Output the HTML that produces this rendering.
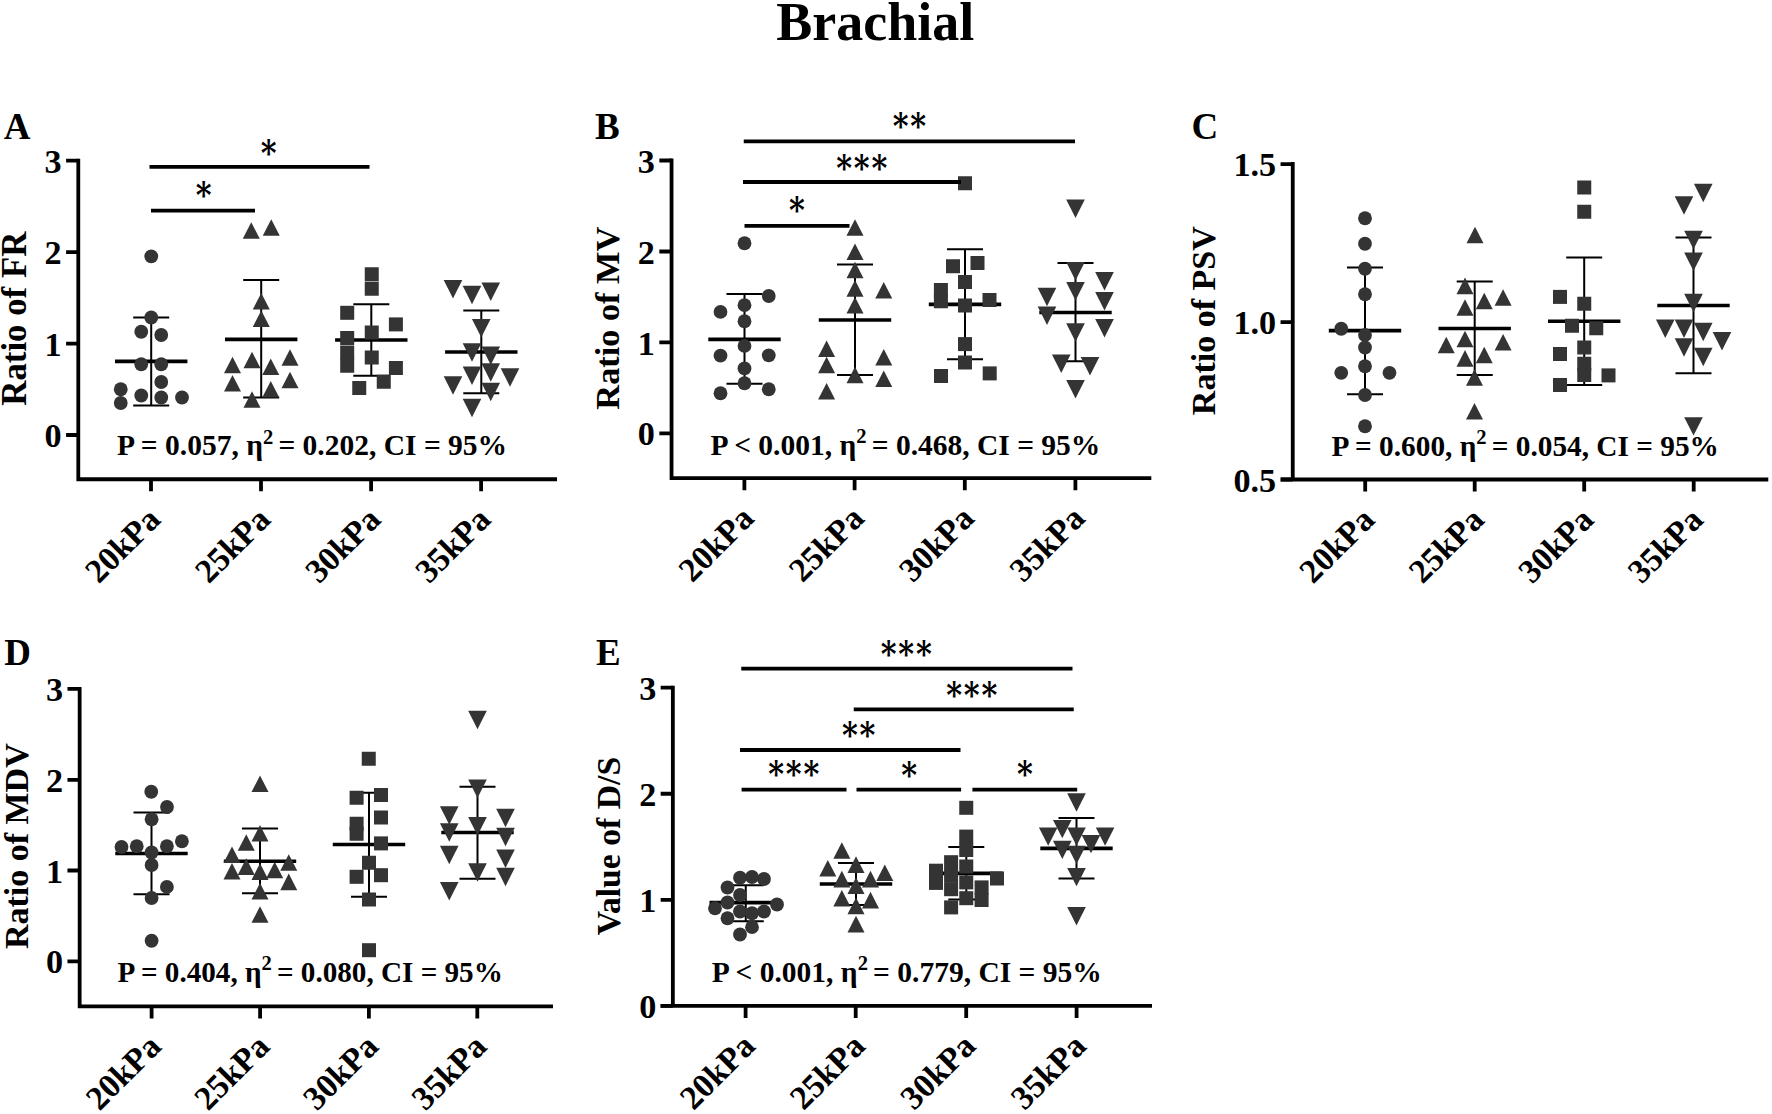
<!DOCTYPE html>
<html lang="en"><head><meta charset="utf-8"><title>Brachial</title>
<style>
html,body{margin:0;padding:0;background:#fff;}
body{width:1772px;height:1114px;overflow:hidden;}
svg{display:block;}
text{font-family:"Liberation Serif", "DejaVu Serif", serif;font-weight:bold;fill:#000;}
.title{font-size:54px;}
.t34{font-size:34.2px;}
.t37{font-size:37px;}
.t29{font-size:29.5px;}
.ast{font-family:"DejaVu Serif","DejaVu Sans","Liberation Serif",serif;font-size:35.3px;}
</style></head><body>
<svg width="1772" height="1114" viewBox="0 0 1772 1114">
<rect width="1772" height="1114" fill="#fff"/>
<text x="875.3" y="40.3" text-anchor="middle" class="title">Brachial</text>
<text x="3.70" y="138.90" class="t37">A</text>
<text transform="translate(25.90 318.70) rotate(-90)" text-anchor="middle" font-size="34.8">Ratio of FR</text>
<path d="M78.30 158.80V481.15M76.40 479.25H557.00" stroke="#000" stroke-width="3.8" fill="none"/>
<text x="61.70" y="172.80" text-anchor="end" class="t34">3</text>
<text x="61.70" y="264.30" text-anchor="end" class="t34">2</text>
<text x="61.70" y="355.80" text-anchor="end" class="t34">1</text>
<text x="61.70" y="447.10" text-anchor="end" class="t34">0</text>
<path d="M66.10 160.70H78.30M66.10 252.20H78.30M66.10 343.70H78.30M66.10 435.00H78.30M151.00 479.25V491.25M261.00 479.25V491.25M371.10 479.25V491.25M481.10 479.25V491.25" stroke="#000" stroke-width="3.8" fill="none"/>
<text transform="translate(162.20 521.25) rotate(-45)" text-anchor="end" font-size="33.6">20kPa</text>
<text transform="translate(272.20 521.25) rotate(-45)" text-anchor="end" font-size="33.6">25kPa</text>
<text transform="translate(382.30 521.25) rotate(-45)" text-anchor="end" font-size="33.6">30kPa</text>
<text transform="translate(492.30 521.25) rotate(-45)" text-anchor="end" font-size="33.6">35kPa</text>
<path d="M115.00 361.30H187.40" stroke="#000" stroke-width="3.7" fill="none"/>
<path d="M151.20 317.50V405.50M133.20 317.50H169.20M133.20 405.50H169.20" stroke="#000" stroke-width="2" fill="none"/>
<g fill="#343434"><circle cx="151.25" cy="256.30" r="6.9"/><circle cx="151.25" cy="317.50" r="6.9"/><circle cx="141.25" cy="331.75" r="6.9"/><circle cx="161.25" cy="335.00" r="6.9"/><circle cx="141.25" cy="364.25" r="6.9"/><circle cx="161.25" cy="364.25" r="6.9"/><circle cx="161.25" cy="382.00" r="6.9"/><circle cx="120.75" cy="389.25" r="6.9"/><circle cx="141.25" cy="395.50" r="6.9"/><circle cx="161.25" cy="397.50" r="6.9"/><circle cx="182.00" cy="397.50" r="6.9"/><circle cx="120.75" cy="403.00" r="6.9"/></g>
<path d="M225.00 339.30H297.40" stroke="#000" stroke-width="3.7" fill="none"/>
<path d="M261.20 280.00V397.50M243.20 280.00H279.20M243.20 397.50H279.20" stroke="#000" stroke-width="2" fill="none"/>
<g fill="#343434"><path d="M242.75 238.80L259.75 238.80L251.25 222.20Z"/><path d="M262.75 235.80L279.75 235.80L271.25 219.20Z"/><path d="M252.75 309.55L269.75 309.55L261.25 292.95Z"/><path d="M252.75 327.05L269.75 327.05L261.25 310.45Z"/><path d="M224.00 373.30L241.00 373.30L232.50 356.70Z"/><path d="M243.50 368.30L260.50 368.30L252.00 351.70Z"/><path d="M262.25 375.05L279.25 375.05L270.75 358.45Z"/><path d="M281.50 365.80L298.50 365.80L290.00 349.20Z"/><path d="M224.00 391.55L241.00 391.55L232.50 374.95Z"/><path d="M281.50 388.30L298.50 388.30L290.00 371.70Z"/><path d="M262.25 397.55L279.25 397.55L270.75 380.95Z"/><path d="M243.50 407.80L260.50 407.80L252.00 391.20Z"/></g>
<path d="M335.10 340.00H407.50" stroke="#000" stroke-width="3.7" fill="none"/>
<path d="M371.30 304.30V375.80M353.30 304.30H389.30M353.30 375.80H389.30" stroke="#000" stroke-width="2" fill="none"/>
<g fill="#343434"><rect x="364.75" y="267.25" width="14" height="14"/><rect x="364.75" y="281.75" width="14" height="14"/><rect x="340.20" y="305.80" width="14" height="14"/><rect x="388.90" y="317.40" width="14" height="14"/><rect x="364.75" y="325.50" width="14" height="14"/><rect x="340.20" y="331.00" width="14" height="14"/><rect x="340.20" y="345.50" width="14" height="14"/><rect x="364.75" y="350.50" width="14" height="14"/><rect x="340.20" y="358.75" width="14" height="14"/><rect x="388.90" y="361.00" width="14" height="14"/><rect x="376.75" y="374.75" width="14" height="14"/><rect x="352.25" y="381.00" width="14" height="14"/></g>
<path d="M445.10 352.00H517.50" stroke="#000" stroke-width="3.7" fill="none"/>
<path d="M481.30 310.50V393.30M463.30 310.50H499.30M463.30 393.30H499.30" stroke="#000" stroke-width="2" fill="none"/>
<g fill="#343434"><path d="M443.70 280.05L462.30 280.05L453.00 298.45Z"/><path d="M462.70 285.80L481.30 285.80L472.00 304.20Z"/><path d="M481.45 282.55L500.05 282.55L490.75 300.95Z"/><path d="M471.95 319.05L490.55 319.05L481.25 337.45Z"/><path d="M462.70 343.30L481.30 343.30L472.00 361.70Z"/><path d="M481.45 346.55L500.05 346.55L490.75 364.95Z"/><path d="M462.70 366.55L481.30 366.55L472.00 384.95Z"/><path d="M481.45 363.30L500.05 363.30L490.75 381.70Z"/><path d="M500.70 368.30L519.30 368.30L510.00 386.70Z"/><path d="M443.70 376.30L462.30 376.30L453.00 394.70Z"/><path d="M481.45 382.80L500.05 382.80L490.75 401.20Z"/><path d="M462.70 398.80L481.30 398.80L472.00 417.20Z"/></g>
<text x="117.10" y="455.40" font-size="29.5">P = 0.057, η<tspan dy="-11.7" font-size="20.6">2</tspan><tspan dy="11.7" dx="-2.2"> = 0.202, CI = 95%</tspan></text>
<path d="M149.50 166.80H369.50" stroke="#000" stroke-width="3.8" fill="none"/>
<text transform="translate(268.75 164.94) scale(0.857 1)" x="-9.27" y="0" class="ast">*</text>
<path d="M151.00 210.70H255.00" stroke="#000" stroke-width="3.8" fill="none"/>
<text transform="translate(203.70 206.99) scale(0.857 1)" x="-9.27" y="0" class="ast">*</text>
<text x="595.00" y="138.90" class="t37">B</text>
<text transform="translate(619.00 318.20) rotate(-90)" text-anchor="middle" font-size="34.3">Ratio of MV</text>
<path d="M671.55 158.40V480.10M669.65 478.20H1151.30" stroke="#000" stroke-width="3.8" fill="none"/>
<text x="654.95" y="172.60" text-anchor="end" class="t34">3</text>
<text x="654.95" y="263.60" text-anchor="end" class="t34">2</text>
<text x="654.95" y="354.50" text-anchor="end" class="t34">1</text>
<text x="654.95" y="445.40" text-anchor="end" class="t34">0</text>
<path d="M659.35 160.50H671.55M659.35 251.50H671.55M659.35 342.40H671.55M659.35 433.30H671.55M744.40 478.20V490.20M854.60 478.20V490.20M964.80 478.20V490.20M1075.40 478.20V490.20" stroke="#000" stroke-width="3.8" fill="none"/>
<text transform="translate(755.60 520.20) rotate(-45)" text-anchor="end" font-size="33.6">20kPa</text>
<text transform="translate(865.80 520.20) rotate(-45)" text-anchor="end" font-size="33.6">25kPa</text>
<text transform="translate(976.00 520.20) rotate(-45)" text-anchor="end" font-size="33.6">30kPa</text>
<text transform="translate(1086.60 520.20) rotate(-45)" text-anchor="end" font-size="33.6">35kPa</text>
<path d="M708.30 339.30H780.70" stroke="#000" stroke-width="3.7" fill="none"/>
<path d="M744.50 294.00V383.80M726.50 294.00H762.50M726.50 383.80H762.50" stroke="#000" stroke-width="2" fill="none"/>
<g fill="#343434"><circle cx="744.50" cy="243.25" r="6.9"/><circle cx="768.75" cy="296.00" r="6.9"/><circle cx="744.50" cy="305.20" r="6.9"/><circle cx="720.50" cy="311.90" r="6.9"/><circle cx="744.50" cy="321.25" r="6.9"/><circle cx="744.50" cy="345.90" r="6.9"/><circle cx="720.50" cy="355.60" r="6.9"/><circle cx="768.75" cy="355.30" r="6.9"/><circle cx="744.50" cy="368.40" r="6.9"/><circle cx="744.50" cy="383.25" r="6.9"/><circle cx="768.75" cy="389.25" r="6.9"/><circle cx="720.50" cy="393.25" r="6.9"/></g>
<path d="M818.80 320.00H891.20" stroke="#000" stroke-width="3.7" fill="none"/>
<path d="M855.00 264.50V375.00M837.00 264.50H873.00M837.00 375.00H873.00" stroke="#000" stroke-width="2" fill="none"/>
<g fill="#343434"><path d="M846.50 235.80L863.50 235.80L855.00 219.20Z"/><path d="M846.50 260.05L863.50 260.05L855.00 243.45Z"/><path d="M846.50 278.30L863.50 278.30L855.00 261.70Z"/><path d="M846.50 296.70L863.50 296.70L855.00 280.10Z"/><path d="M875.25 298.60L892.25 298.60L883.75 282.00Z"/><path d="M846.50 313.60L863.50 313.60L855.00 297.00Z"/><path d="M818.10 357.05L835.10 357.05L826.60 340.45Z"/><path d="M875.25 365.60L892.25 365.60L883.75 349.00Z"/><path d="M818.10 373.30L835.10 373.30L826.60 356.70Z"/><path d="M846.50 383.30L863.50 383.30L855.00 366.70Z"/><path d="M875.25 387.05L892.25 387.05L883.75 370.45Z"/><path d="M818.10 399.55L835.10 399.55L826.60 382.95Z"/></g>
<path d="M928.80 304.30H1001.20" stroke="#000" stroke-width="3.7" fill="none"/>
<path d="M965.00 249.30V359.30M947.00 249.30H983.00M947.00 359.30H983.00" stroke="#000" stroke-width="2" fill="none"/>
<g fill="#343434"><rect x="958.00" y="176.25" width="14" height="14"/><rect x="946.00" y="259.25" width="14" height="14"/><rect x="970.50" y="256.00" width="14" height="14"/><rect x="958.00" y="275.00" width="14" height="14"/><rect x="933.90" y="283.00" width="14" height="14"/><rect x="933.90" y="294.25" width="14" height="14"/><rect x="958.00" y="298.50" width="14" height="14"/><rect x="982.50" y="293.00" width="14" height="14"/><rect x="958.00" y="337.10" width="14" height="14"/><rect x="958.00" y="355.50" width="14" height="14"/><rect x="934.00" y="369.00" width="14" height="14"/><rect x="982.70" y="366.40" width="14" height="14"/></g>
<path d="M1039.30 312.50H1111.70" stroke="#000" stroke-width="3.7" fill="none"/>
<path d="M1075.50 263.00V361.30M1057.50 263.00H1093.50M1057.50 361.30H1093.50" stroke="#000" stroke-width="2" fill="none"/>
<g fill="#343434"><path d="M1066.20 199.55L1084.80 199.55L1075.50 217.95Z"/><path d="M1066.20 262.05L1084.80 262.05L1075.50 280.45Z"/><path d="M1095.20 272.05L1113.80 272.05L1104.50 290.45Z"/><path d="M1066.20 282.05L1084.80 282.05L1075.50 300.45Z"/><path d="M1037.70 287.80L1056.30 287.80L1047.00 306.20Z"/><path d="M1095.20 292.05L1113.80 292.05L1104.50 310.45Z"/><path d="M1037.70 306.55L1056.30 306.55L1047.00 324.95Z"/><path d="M1095.20 319.05L1113.80 319.05L1104.50 337.45Z"/><path d="M1066.20 323.30L1084.80 323.30L1075.50 341.70Z"/><path d="M1051.95 354.55L1070.55 354.55L1061.25 372.95Z"/><path d="M1080.70 357.05L1099.30 357.05L1090.00 375.45Z"/><path d="M1066.20 380.05L1084.80 380.05L1075.50 398.45Z"/></g>
<text x="710.40" y="454.50" font-size="29.5">P &lt; 0.001, η<tspan dy="-11.7" font-size="20.6">2</tspan><tspan dy="11.7" dx="-2.2"> = 0.468, CI = 95%</tspan></text>
<path d="M743.75 141.30H1075.00" stroke="#000" stroke-width="3.8" fill="none"/>
<text transform="translate(909.50 137.94) scale(0.857 1)" x="-19.53 1.00" y="0" class="ast">**</text>
<path d="M743.00 182.00H961.00" stroke="#000" stroke-width="3.8" fill="none"/>
<text transform="translate(861.75 179.94) scale(0.857 1)" x="-29.80 -9.27 11.27" y="0" class="ast">***</text>
<path d="M744.50 225.80H849.50" stroke="#000" stroke-width="3.8" fill="none"/>
<text transform="translate(797.00 222.44) scale(0.857 1)" x="-9.27" y="0" class="ast">*</text>
<text x="1191.60" y="138.70" class="t37">C</text>
<text transform="translate(1215.00 320.70) rotate(-90)" text-anchor="middle" font-size="34.0">Ratio of PSV</text>
<path d="M1292.75 162.00V481.40M1280.80 479.50H1768.30" stroke="#000" stroke-width="3.8" fill="none"/>
<text x="1276.15" y="176.20" text-anchor="end" class="t34">1.5</text>
<text x="1276.15" y="334.20" text-anchor="end" class="t34">1.0</text>
<text x="1276.15" y="491.60" text-anchor="end" class="t34">0.5</text>
<path d="M1280.55 164.10H1292.75M1280.55 322.10H1292.75M1280.55 479.50H1292.75M1365.20 479.50V491.50M1474.70 479.50V491.50M1584.20 479.50V491.50M1693.70 479.50V491.50" stroke="#000" stroke-width="3.8" fill="none"/>
<text transform="translate(1376.40 521.50) rotate(-45)" text-anchor="end" font-size="33.6">20kPa</text>
<text transform="translate(1485.90 521.50) rotate(-45)" text-anchor="end" font-size="33.6">25kPa</text>
<text transform="translate(1595.40 521.50) rotate(-45)" text-anchor="end" font-size="33.6">30kPa</text>
<text transform="translate(1704.90 521.50) rotate(-45)" text-anchor="end" font-size="33.6">35kPa</text>
<path d="M1328.80 330.60H1401.20" stroke="#000" stroke-width="3.7" fill="none"/>
<path d="M1365.00 267.50V394.30M1347.00 267.50H1383.00M1347.00 394.30H1383.00" stroke="#000" stroke-width="2" fill="none"/>
<g fill="#343434"><circle cx="1365.00" cy="218.25" r="6.9"/><circle cx="1365.00" cy="243.75" r="6.9"/><circle cx="1365.00" cy="268.75" r="6.9"/><circle cx="1365.00" cy="294.25" r="6.9"/><circle cx="1341.25" cy="328.75" r="6.9"/><circle cx="1365.00" cy="335.00" r="6.9"/><circle cx="1365.00" cy="347.50" r="6.9"/><circle cx="1365.00" cy="366.25" r="6.9"/><circle cx="1341.25" cy="372.80" r="6.9"/><circle cx="1389.50" cy="372.80" r="6.9"/><circle cx="1365.00" cy="395.00" r="6.9"/><circle cx="1365.00" cy="426.25" r="6.9"/></g>
<path d="M1438.50 328.50H1510.90" stroke="#000" stroke-width="3.7" fill="none"/>
<path d="M1474.70 281.60V375.00M1456.70 281.60H1492.70M1456.70 375.00H1492.70" stroke="#000" stroke-width="2" fill="none"/>
<g fill="#343434"><path d="M1466.50 243.30L1483.50 243.30L1475.00 226.70Z"/><path d="M1456.50 294.20L1473.50 294.20L1465.00 277.60Z"/><path d="M1494.60 305.80L1511.60 305.80L1503.10 289.20Z"/><path d="M1475.75 309.30L1492.75 309.30L1484.25 292.70Z"/><path d="M1456.50 315.80L1473.50 315.80L1465.00 299.20Z"/><path d="M1456.50 347.30L1473.50 347.30L1465.00 330.70Z"/><path d="M1494.60 350.50L1511.60 350.50L1503.10 333.90Z"/><path d="M1437.75 353.30L1454.75 353.30L1446.25 336.70Z"/><path d="M1475.75 363.30L1492.75 363.30L1484.25 346.70Z"/><path d="M1456.50 366.70L1473.50 366.70L1465.00 350.10Z"/><path d="M1466.00 385.80L1483.00 385.80L1474.50 369.20Z"/><path d="M1466.00 419.55L1483.00 419.55L1474.50 402.95Z"/></g>
<path d="M1548.00 321.25H1620.40" stroke="#000" stroke-width="3.7" fill="none"/>
<path d="M1584.20 257.50V385.00M1566.20 257.50H1602.20M1566.20 385.00H1602.20" stroke="#000" stroke-width="2" fill="none"/>
<g fill="#343434"><rect x="1577.25" y="180.50" width="14" height="14"/><rect x="1577.25" y="204.75" width="14" height="14"/><rect x="1553.00" y="289.90" width="14" height="14"/><rect x="1577.25" y="296.75" width="14" height="14"/><rect x="1565.00" y="318.75" width="14" height="14"/><rect x="1589.25" y="321.25" width="14" height="14"/><rect x="1577.25" y="340.50" width="14" height="14"/><rect x="1553.00" y="347.00" width="14" height="14"/><rect x="1577.25" y="356.75" width="14" height="14"/><rect x="1577.25" y="368.00" width="14" height="14"/><rect x="1601.50" y="368.40" width="14" height="14"/><rect x="1553.00" y="378.00" width="14" height="14"/></g>
<path d="M1657.30 305.50H1729.70" stroke="#000" stroke-width="3.7" fill="none"/>
<path d="M1693.50 237.50V373.30M1675.50 237.50H1711.50M1675.50 373.30H1711.50" stroke="#000" stroke-width="2" fill="none"/>
<g fill="#343434"><path d="M1693.95 183.80L1712.55 183.80L1703.25 202.20Z"/><path d="M1674.70 196.30L1693.30 196.30L1684.00 214.70Z"/><path d="M1684.20 230.80L1702.80 230.80L1693.50 249.20Z"/><path d="M1684.20 252.55L1702.80 252.55L1693.50 270.95Z"/><path d="M1684.20 293.80L1702.80 293.80L1693.50 312.20Z"/><path d="M1655.95 319.55L1674.55 319.55L1665.25 337.95Z"/><path d="M1674.70 319.55L1693.30 319.55L1684.00 337.95Z"/><path d="M1693.95 322.80L1712.55 322.80L1703.25 341.20Z"/><path d="M1712.70 332.05L1731.30 332.05L1722.00 350.45Z"/><path d="M1674.70 338.30L1693.30 338.30L1684.00 356.70Z"/><path d="M1693.95 347.80L1712.55 347.80L1703.25 366.20Z"/><path d="M1684.20 417.20L1702.80 417.20L1693.50 435.60Z"/></g>
<text x="1331.50" y="455.70" font-size="29.3">P = 0.600, η<tspan dy="-11.7" font-size="20.6">2</tspan><tspan dy="11.7" dx="-2.2"> = 0.054, CI = 95%</tspan></text>
<text x="4.30" y="664.90" class="t37">D</text>
<text transform="translate(27.60 846.20) rotate(-90)" text-anchor="middle" font-size="34.0">Ratio of MDV</text>
<path d="M79.65 687.00V1008.30M77.75 1006.40H553.00" stroke="#000" stroke-width="3.8" fill="none"/>
<text x="63.05" y="701.05" text-anchor="end" class="t34">3</text>
<text x="63.05" y="791.90" text-anchor="end" class="t34">2</text>
<text x="63.05" y="882.60" text-anchor="end" class="t34">1</text>
<text x="63.05" y="973.40" text-anchor="end" class="t34">0</text>
<path d="M67.45 688.95H79.65M67.45 779.80H79.65M67.45 870.50H79.65M67.45 961.30H79.65M151.60 1006.40V1018.40M260.10 1006.40V1018.40M368.90 1006.40V1018.40M477.30 1006.40V1018.40" stroke="#000" stroke-width="3.8" fill="none"/>
<text transform="translate(162.80 1048.40) rotate(-45)" text-anchor="end" font-size="33.6">20kPa</text>
<text transform="translate(271.30 1048.40) rotate(-45)" text-anchor="end" font-size="33.6">25kPa</text>
<text transform="translate(380.10 1048.40) rotate(-45)" text-anchor="end" font-size="33.6">30kPa</text>
<text transform="translate(488.50 1048.40) rotate(-45)" text-anchor="end" font-size="33.6">35kPa</text>
<path d="M115.30 853.50H187.70" stroke="#000" stroke-width="3.7" fill="none"/>
<path d="M151.50 812.50V894.25M133.50 812.50H169.50M133.50 894.25H169.50" stroke="#000" stroke-width="2" fill="none"/>
<g fill="#343434"><circle cx="151.25" cy="791.75" r="6.9"/><circle cx="167.00" cy="807.00" r="6.9"/><circle cx="151.60" cy="819.25" r="6.9"/><circle cx="181.90" cy="841.25" r="6.9"/><circle cx="121.50" cy="847.00" r="6.9"/><circle cx="136.75" cy="846.25" r="6.9"/><circle cx="166.90" cy="846.25" r="6.9"/><circle cx="151.60" cy="852.50" r="6.9"/><circle cx="151.60" cy="865.00" r="6.9"/><circle cx="166.90" cy="886.90" r="6.9"/><circle cx="151.60" cy="898.00" r="6.9"/><circle cx="151.60" cy="940.75" r="6.9"/></g>
<path d="M223.80 861.25H296.20" stroke="#000" stroke-width="3.7" fill="none"/>
<path d="M260.00 828.50V893.25M242.00 828.50H278.00M242.00 893.25H278.00" stroke="#000" stroke-width="2" fill="none"/>
<g fill="#343434"><path d="M251.50 792.05L268.50 792.05L260.00 775.45Z"/><path d="M251.50 841.55L268.50 841.55L260.00 824.95Z"/><path d="M237.75 850.80L254.75 850.80L246.25 834.20Z"/><path d="M223.50 863.05L240.50 863.05L232.00 846.45Z"/><path d="M280.25 870.80L297.25 870.80L288.75 854.20Z"/><path d="M237.75 874.90L254.75 874.90L246.25 858.30Z"/><path d="M223.50 879.55L240.50 879.55L232.00 862.95Z"/><path d="M251.50 879.90L268.50 879.90L260.00 863.30Z"/><path d="M266.20 878.30L283.20 878.30L274.70 861.70Z"/><path d="M280.25 890.20L297.25 890.20L288.75 873.60Z"/><path d="M251.50 899.55L268.50 899.55L260.00 882.95Z"/><path d="M251.50 922.80L268.50 922.80L260.00 906.20Z"/></g>
<path d="M332.80 844.50H405.20" stroke="#000" stroke-width="3.7" fill="none"/>
<path d="M369.00 792.80V896.75M351.00 792.80H387.00M351.00 896.75H387.00" stroke="#000" stroke-width="2" fill="none"/>
<g fill="#343434"><rect x="361.75" y="751.75" width="14" height="14"/><rect x="349.60" y="790.75" width="14" height="14"/><rect x="374.00" y="788.00" width="14" height="14"/><rect x="374.00" y="810.50" width="14" height="14"/><rect x="349.60" y="816.75" width="14" height="14"/><rect x="349.60" y="826.75" width="14" height="14"/><rect x="374.00" y="836.40" width="14" height="14"/><rect x="362.00" y="855.75" width="14" height="14"/><rect x="349.60" y="869.80" width="14" height="14"/><rect x="374.00" y="868.20" width="14" height="14"/><rect x="362.00" y="892.50" width="14" height="14"/><rect x="362.00" y="943.20" width="14" height="14"/></g>
<path d="M441.30 832.50H513.70" stroke="#000" stroke-width="3.7" fill="none"/>
<path d="M477.50 786.75V878.75M459.50 786.75H495.50M459.50 878.75H495.50" stroke="#000" stroke-width="2" fill="none"/>
<g fill="#343434"><path d="M468.20 710.80L486.80 710.80L477.50 729.20Z"/><path d="M468.20 779.55L486.80 779.55L477.50 797.95Z"/><path d="M439.95 806.30L458.55 806.30L449.25 824.70Z"/><path d="M496.20 808.80L514.80 808.80L505.50 827.20Z"/><path d="M468.20 817.05L486.80 817.05L477.50 835.45Z"/><path d="M439.95 823.30L458.55 823.30L449.25 841.70Z"/><path d="M496.20 827.80L514.80 827.80L505.50 846.20Z"/><path d="M439.95 845.80L458.55 845.80L449.25 864.20Z"/><path d="M496.20 849.55L514.80 849.55L505.50 867.95Z"/><path d="M468.20 863.30L486.80 863.30L477.50 881.70Z"/><path d="M496.20 867.80L514.80 867.80L505.50 886.20Z"/><path d="M439.95 882.05L458.55 882.05L449.25 900.45Z"/></g>
<text x="117.50" y="982.10" font-size="29.15">P = 0.404, η<tspan dy="-11.7" font-size="20.6">2</tspan><tspan dy="11.7" dx="-2.2"> = 0.080, CI = 95%</tspan></text>
<text x="595.90" y="664.90" class="t37">E</text>
<text transform="translate(620.30 846.10) rotate(-90)" text-anchor="middle" font-size="33.7">Value of D/S</text>
<path d="M672.85 685.70V1007.85M660.60 1005.95H1152.00" stroke="#000" stroke-width="3.8" fill="none"/>
<text x="656.25" y="699.75" text-anchor="end" class="t34">3</text>
<text x="656.25" y="805.85" text-anchor="end" class="t34">2</text>
<text x="656.25" y="911.95" text-anchor="end" class="t34">1</text>
<text x="656.25" y="1018.05" text-anchor="end" class="t34">0</text>
<path d="M660.65 687.65H672.85M660.65 793.75H672.85M660.65 899.85H672.85M660.65 1005.95H672.85M745.60 1005.95V1017.95M855.70 1005.95V1017.95M966.20 1005.95V1017.95M1076.60 1005.95V1017.95" stroke="#000" stroke-width="3.8" fill="none"/>
<text transform="translate(756.80 1047.95) rotate(-45)" text-anchor="end" font-size="33.6">20kPa</text>
<text transform="translate(866.90 1047.95) rotate(-45)" text-anchor="end" font-size="33.6">25kPa</text>
<text transform="translate(977.40 1047.95) rotate(-45)" text-anchor="end" font-size="33.6">30kPa</text>
<text transform="translate(1087.80 1047.95) rotate(-45)" text-anchor="end" font-size="33.6">35kPa</text>
<path d="M709.55 902.70H781.95" stroke="#000" stroke-width="3.7" fill="none"/>
<path d="M745.75 885.20V921.20M727.75 885.20H763.75M727.75 921.20H763.75" stroke="#000" stroke-width="2" fill="none"/>
<g fill="#343434"><circle cx="740.00" cy="877.75" r="6.9"/><circle cx="752.00" cy="877.00" r="6.9"/><circle cx="764.00" cy="879.00" r="6.9"/><circle cx="727.50" cy="887.50" r="6.9"/><circle cx="740.00" cy="895.00" r="6.9"/><circle cx="727.50" cy="902.50" r="6.9"/><circle cx="715.00" cy="908.25" r="6.9"/><circle cx="777.00" cy="904.50" r="6.9"/><circle cx="740.00" cy="911.50" r="6.9"/><circle cx="752.00" cy="913.25" r="6.9"/><circle cx="764.00" cy="911.50" r="6.9"/><circle cx="727.50" cy="918.25" r="6.9"/><circle cx="752.00" cy="927.20" r="6.9"/><circle cx="740.00" cy="934.50" r="6.9"/></g>
<path d="M819.80 884.00H892.20" stroke="#000" stroke-width="3.7" fill="none"/>
<path d="M856.00 863.00V904.90M838.00 863.00H874.00M838.00 904.90H874.00" stroke="#000" stroke-width="2" fill="none"/>
<g fill="#343434"><path d="M833.35 858.80L850.35 858.80L841.85 842.20Z"/><path d="M819.30 876.60L836.30 876.60L827.80 860.00Z"/><path d="M847.50 872.90L864.50 872.90L856.00 856.30Z"/><path d="M876.30 881.10L893.30 881.10L884.80 864.50Z"/><path d="M833.35 887.40L850.35 887.40L841.85 870.80Z"/><path d="M862.00 887.40L879.00 887.40L870.50 870.80Z"/><path d="M847.50 893.90L864.50 893.90L856.00 877.30Z"/><path d="M833.35 906.60L850.35 906.60L841.85 890.00Z"/><path d="M862.00 908.40L879.00 908.40L870.50 891.80Z"/><path d="M847.50 914.20L864.50 914.20L856.00 897.60Z"/><path d="M847.50 932.40L864.50 932.40L856.00 915.80Z"/></g>
<path d="M930.10 873.40H1002.50" stroke="#000" stroke-width="3.7" fill="none"/>
<path d="M966.30 847.00V899.50M948.30 847.00H984.30M948.30 899.50H984.30" stroke="#000" stroke-width="2" fill="none"/>
<g fill="#343434"><rect x="959.25" y="800.80" width="14" height="14"/><rect x="959.25" y="829.60" width="14" height="14"/><rect x="959.25" y="843.00" width="14" height="14"/><rect x="959.25" y="859.50" width="14" height="14"/><rect x="959.25" y="875.40" width="14" height="14"/><rect x="959.25" y="891.20" width="14" height="14"/><rect x="944.10" y="855.20" width="14" height="14"/><rect x="944.10" y="868.70" width="14" height="14"/><rect x="944.10" y="882.20" width="14" height="14"/><rect x="929.00" y="863.70" width="14" height="14"/><rect x="929.00" y="875.90" width="14" height="14"/><rect x="944.10" y="900.40" width="14" height="14"/><rect x="974.60" y="880.40" width="14" height="14"/><rect x="974.60" y="893.00" width="14" height="14"/><rect x="990.00" y="871.50" width="14" height="14"/></g>
<path d="M1040.30 848.40H1112.70" stroke="#000" stroke-width="3.7" fill="none"/>
<path d="M1076.50 818.00V878.60M1058.50 818.00H1094.50M1058.50 878.60H1094.50" stroke="#000" stroke-width="2" fill="none"/>
<g fill="#343434"><path d="M1067.20 793.30L1085.80 793.30L1076.50 811.70Z"/><path d="M1053.00 819.90L1071.60 819.90L1062.30 838.30Z"/><path d="M1038.90 827.40L1057.50 827.40L1048.20 845.80Z"/><path d="M1067.20 827.40L1085.80 827.40L1076.50 845.80Z"/><path d="M1095.80 827.40L1114.40 827.40L1105.10 845.80Z"/><path d="M1081.70 834.90L1100.30 834.90L1091.00 853.30Z"/><path d="M1053.00 840.70L1071.60 840.70L1062.30 859.10Z"/><path d="M1067.20 845.70L1085.80 845.70L1076.50 864.10Z"/><path d="M1067.20 867.90L1085.80 867.90L1076.50 886.30Z"/><path d="M1067.20 907.00L1085.80 907.00L1076.50 925.40Z"/></g>
<text x="711.80" y="981.70" font-size="29.5">P &lt; 0.001, η<tspan dy="-11.7" font-size="20.6">2</tspan><tspan dy="11.7" dx="-2.2"> = 0.779, CI = 95%</tspan></text>
<path d="M741.25 668.60H1072.50" stroke="#000" stroke-width="3.8" fill="none"/>
<text transform="translate(906.25 665.69) scale(0.857 1)" x="-29.80 -9.27 11.27" y="0" class="ast">***</text>
<path d="M853.75 709.30H1073.75" stroke="#000" stroke-width="3.8" fill="none"/>
<text transform="translate(971.75 706.94) scale(0.857 1)" x="-29.80 -9.27 11.27" y="0" class="ast">***</text>
<path d="M740.00 750.00H960.50" stroke="#000" stroke-width="3.8" fill="none"/>
<text transform="translate(858.75 747.44) scale(0.857 1)" x="-19.53 1.00" y="0" class="ast">**</text>
<path d="M741.60 789.70H846.50" stroke="#000" stroke-width="3.8" fill="none"/>
<text transform="translate(793.75 786.19) scale(0.857 1)" x="-29.80 -9.27 11.27" y="0" class="ast">***</text>
<path d="M856.50 789.70H961.10" stroke="#000" stroke-width="3.8" fill="none"/>
<text transform="translate(909.25 787.44) scale(0.857 1)" x="-9.27" y="0" class="ast">*</text>
<path d="M972.40 789.70H1077.20" stroke="#000" stroke-width="3.8" fill="none"/>
<text transform="translate(1025.00 786.19) scale(0.857 1)" x="-9.27" y="0" class="ast">*</text>
</svg>
</body></html>
